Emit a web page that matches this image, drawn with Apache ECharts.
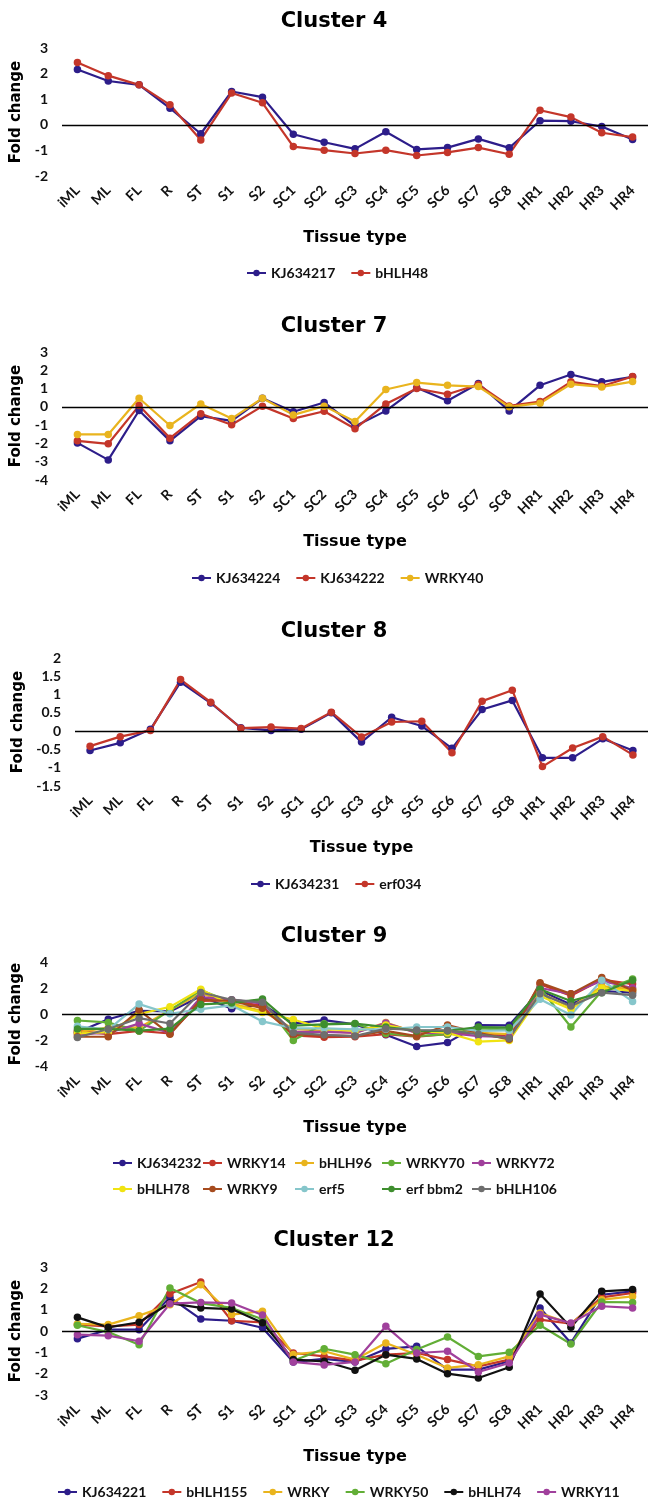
<!DOCTYPE html>
<html>
<head>
<meta charset="utf-8">
<script src="https://cdn.jsdelivr.net/npm/echarts@6/dist/echarts.min.js"></script>
<style>
body { margin: 0; background: #fff; }
.box { position: absolute; left: 0; width: 648px; }
</style>
</head>
<body>
<div id="c4" class="box" style="top:0;height:300px"></div>
<div id="c7" class="box" style="top:300px;height:310px"></div>
<div id="c8" class="box" style="top:610px;height:300px"></div>
<div id="c9" class="box" style="top:910px;height:300px"></div>
<div id="c12" class="box" style="top:1210px;height:291px"></div>
<script>
// tissues on the x axis (same for every cluster)
var tissues = ['iML','ML','FL','R','ST','S1','S2','SC1','SC2','SC3','SC4','SC5','SC6','SC7','SC8','HR1','HR2','HR3','HR4'];

// Cluster 4
var KJ634217 = [2.16,1.71,1.56,0.65,-0.35,1.30,1.08,-0.37,-0.68,-0.94,-0.27,-0.96,-0.89,-0.55,-0.90,0.16,0.14,-0.07,-0.57];
var bHLH48   = [2.43,1.92,1.56,0.78,-0.59,1.24,0.86,-0.85,-0.99,-1.12,-0.99,-1.20,-1.08,-0.89,-1.15,0.57,0.30,-0.31,-0.48];

// Cluster 7
var KJ634224 = [-1.97,-2.90,-0.20,-1.86,-0.51,-0.77,0.47,-0.27,0.24,-1.06,-0.22,1.04,0.33,1.28,-0.22,1.18,1.77,1.37,1.64];
var KJ634222 = [-1.86,-2.02,0.07,-1.71,-0.38,-0.98,0.04,-0.64,-0.24,-1.20,0.16,1.00,0.69,1.22,0.05,0.29,1.37,1.13,1.66];
var WRKY40   = [-1.51,-1.51,0.47,-1.02,0.16,-0.64,0.47,-0.44,0.04,-0.80,0.95,1.33,1.18,1.11,0.00,0.20,1.24,1.09,1.38];

// Cluster 8
var KJ634231 = [-0.53,-0.32,0.05,1.34,0.77,0.09,0.02,0.05,0.50,-0.30,0.38,0.14,-0.47,0.59,0.84,-0.73,-0.73,-0.21,-0.53];
var erf034   = [-0.41,-0.15,0.02,1.41,0.79,0.08,0.11,0.07,0.52,-0.16,0.25,0.27,-0.59,0.82,1.12,-0.97,-0.46,-0.15,-0.65];

// Cluster 9
var KJ634232 = [-1.40,-0.40,0.25,0.20,1.36,0.41,0.74,-0.74,-0.47,-0.80,-1.60,-2.50,-2.20,-0.85,-0.87,1.80,0.74,1.77,1.64];
var WRKY14   = [-1.30,-1.55,-1.30,-1.50,1.00,1.05,0.60,-1.65,-1.78,-1.75,-1.55,-1.75,-1.55,-1.45,-1.70,2.30,1.40,2.65,2.30];
var bHLH96   = [-1.40,-1.05,-1.05,0.30,1.60,0.80,0.23,-1.15,-1.30,-1.45,-0.65,-1.45,-1.30,-1.45,-1.55,1.65,0.50,2.15,1.90];
var WRKY70   = [-0.50,-0.65,-1.30,0.30,1.82,0.92,1.05,-2.03,-0.75,-0.75,-1.50,-1.70,-1.55,-1.10,-1.20,2.00,-1.00,1.77,2.70];
var WRKY72   = [-1.55,-1.45,-0.74,-1.45,1.30,1.10,0.80,-1.38,-1.38,-1.45,-0.70,-1.45,-1.45,-1.70,-1.77,2.00,1.55,2.55,2.00];
var bHLH78   = [-1.50,-1.40,0.00,0.55,1.90,0.67,0.12,-0.42,-1.13,-1.30,-0.85,-1.30,-1.45,-2.13,-2.03,1.38,0.36,2.00,1.77];
var WRKY9    = [-1.75,-1.75,0.30,-1.56,1.10,1.00,0.44,-1.56,-1.65,-1.70,-1.30,-1.70,-0.85,-1.45,-1.95,2.40,1.55,2.80,1.82];
var erf5     = [-0.95,-1.20,0.76,0.02,0.37,0.67,-0.57,-1.10,-1.10,-1.18,-1.18,-1.00,-1.00,-1.30,-1.26,1.13,-0.08,2.60,0.97];
var erfBbm2  = [-1.15,-1.15,-1.28,-1.13,0.74,0.85,1.15,-0.90,-0.80,-0.74,-1.00,-1.30,-1.30,-1.00,-1.05,1.90,1.00,1.64,2.60];
var bHLH106  = [-1.80,-1.15,-0.32,-0.73,1.65,1.10,0.90,-1.45,-1.60,-1.70,-1.13,-1.23,-1.26,-1.56,-1.87,1.56,0.62,1.64,1.45];

// Cluster 12
var KJ634221 = [-0.36,0.06,0.06,1.58,0.56,0.48,0.15,-1.45,-1.31,-1.45,-0.84,-0.72,-1.81,-1.81,-1.42,1.08,-0.56,1.70,1.86];
var bHLH155  = [0.30,0.22,0.30,1.75,2.30,0.48,0.40,-1.03,-1.19,-1.39,-1.11,-1.03,-1.34,-1.66,-1.34,0.53,0.34,1.58,1.78];
var WRKY     = [0.33,0.30,0.72,1.23,2.17,0.77,0.93,-1.10,-0.95,-1.34,-0.56,-1.11,-1.73,-1.58,-1.19,0.84,0.34,1.47,1.62];
var WRKY50   = [0.27,-0.05,-0.64,2.02,1.31,1.08,0.55,-1.39,-0.83,-1.11,-1.53,-0.87,-0.28,-1.19,-1.00,0.27,-0.61,1.36,1.34];
var bHLH74   = [0.64,0.17,0.41,1.31,1.08,1.03,0.39,-1.34,-1.42,-1.84,-1.11,-1.31,-2.00,-2.20,-1.70,1.73,0.17,1.86,1.94];
var WRKY11   = [-0.17,-0.22,-0.48,1.28,1.34,1.31,0.75,-1.45,-1.59,-1.45,0.22,-1.03,-0.95,-1.92,-1.50,0.77,0.37,1.16,1.08];

// colours
var NAVY = '#2d1d8a', RED = '#c4362a', GOLD = '#e9b41e', GREEN = '#62ae36', PURPLE = '#a0409c',
    YELLOW = '#f0e312', BROWN = '#a64b1e', CYAN = '#86c6cb', DKGREEN = '#3e8e2e', GRAY = '#6e6e6e', BLACK = '#111111';

var labelFont = 'Lato';
var headFont = 'DejaVu Sans';

function makeOption(cfg) {
    var series = cfg.series.map(function (s, i) {
        var o = {
            name: s.name, type: 'line', data: s.data,
            symbol: 'circle', symbolSize: 7.5,
            lineStyle: { width: 2.2, color: s.color },
            itemStyle: { color: s.color },
            animation: false
        };
        if (i === 0) {
            // the black line at 0
            o.markLine = {
                silent: true, symbol: 'none', animation: false,
                label: { show: false },
                lineStyle: { color: '#000', width: 1.3, type: 'solid' },
                data: [{ yAxis: 0 }]
            };
        }
        return o;
    });
    var legends = cfg.legends.map(function (lg) {
        return {
            data: lg.data, left: lg.left, top: lg.top, itemGap: lg.gap || 15,
            itemWidth: 19, itemHeight: 8,
            textStyle: { fontFamily: labelFont, fontSize: 14, fontWeight: 'bold', color: '#111' }
        };
    });
    return {
        animation: false,
        title: {
            text: cfg.title, left: 329, textAlign: 'center', top: cfg.titleTop,
            textStyle: { fontFamily: headFont, fontWeight: 'bold', fontSize: 21, color: '#000' }
        },
        legend: legends,
        grid: { left: cfg.left, right: cfg.right, top: cfg.top, height: cfg.height },
        xAxis: {
            type: 'category', data: tissues, boundaryGap: true,
            axisLine: { show: false, onZero: false },
            axisTick: { show: false },
            axisLabel: { rotate: 45, margin: 12, interval: 0, fontFamily: labelFont, fontSize: 14, fontWeight: 'bold', color: '#111' },
            name: 'Tissue type', nameLocation: 'middle', nameGap: 54,
            nameTextStyle: { fontFamily: headFont, fontWeight: 'bold', fontSize: 16, color: '#000' }
        },
        yAxis: {
            type: 'value', min: cfg.min, max: cfg.max, interval: cfg.interval,
            axisLine: { show: false }, axisTick: { show: false }, splitLine: { show: false },
            axisLabel: { margin: 14, fontFamily: labelFont, fontSize: 14, fontWeight: 'bold', color: '#111' },
            name: 'Fold change', nameLocation: 'middle', nameGap: cfg.left - 32,
            nameTextStyle: { fontFamily: headFont, fontWeight: 'bold', fontSize: 15, color: '#000' }
        },
        series: series
    };
}

var charts = [
    { id: 'c4', title: 'Cluster 4', titleTop: 6, left: 62, right: -6, top: 48, height: 128, min: -2, max: 3, interval: 1,
      series: [{ name: 'KJ634217', data: KJ634217, color: NAVY }, { name: 'bHLH48', data: bHLH48, color: RED }],
      legends: [{ data: ['KJ634217', 'bHLH48'], left: 241, top: 261 }] },
    { id: 'c7', title: 'Cluster 7', titleTop: 11, left: 62, right: -6, top: 52, height: 128, min: -4, max: 3, interval: 1,
      series: [{ name: 'KJ634224', data: KJ634224, color: NAVY }, { name: 'KJ634222', data: KJ634222, color: RED },
               { name: 'WRKY40', data: WRKY40, color: GOLD }],
      legends: [{ data: ['KJ634224', 'KJ634222', 'WRKY40'], left: 186, top: 266 }] },
    { id: 'c8', title: 'Cluster 8', titleTop: 6, left: 75, right: -6, top: 48, height: 128, min: -1.5, max: 2, interval: 0.5,
      series: [{ name: 'KJ634231', data: KJ634231, color: NAVY }, { name: 'erf034', data: erf034, color: RED }],
      legends: [{ data: ['KJ634231', 'erf034'], left: 245, top: 262 }] },
    { id: 'c9', title: 'Cluster 9', titleTop: 11, left: 62, right: -6, top: 52, height: 104, min: -4, max: 4, interval: 2,
      series: [{ name: 'KJ634232', data: KJ634232, color: NAVY }, { name: 'WRKY14', data: WRKY14, color: RED },
               { name: 'bHLH96', data: bHLH96, color: GOLD }, { name: 'WRKY70', data: WRKY70, color: GREEN },
               { name: 'WRKY72', data: WRKY72, color: PURPLE }, { name: 'bHLH78', data: bHLH78, color: YELLOW },
               { name: 'WRKY9', data: WRKY9, color: BROWN }, { name: 'erf5', data: erf5, color: CYAN },
               { name: 'erf bbm2', data: erfBbm2, color: DKGREEN }, { name: 'bHLH106', data: bHLH106, color: GRAY }],
      legends: [] },
    { id: 'c12', title: 'Cluster 12', titleTop: 15, left: 62, right: -6, top: 57, height: 128, min: -3, max: 3, interval: 1,
      series: [{ name: 'KJ634221', data: KJ634221, color: NAVY }, { name: 'bHLH155', data: bHLH155, color: RED },
               { name: 'WRKY', data: WRKY, color: GOLD }, { name: 'WRKY50', data: WRKY50, color: GREEN },
               { name: 'bHLH74', data: bHLH74, color: BLACK }, { name: 'WRKY11', data: WRKY11, color: PURPLE }],
      legends: [{ data: ['KJ634221', 'bHLH155', 'WRKY', 'WRKY50', 'bHLH74', 'WRKY11'], left: 52, top: 270, gap: 15 }] }
];

// cluster 9 legend: two rows in fixed columns
var c9cols = [107, 197, 289, 376, 466];
var c9rows = [['KJ634232', 'WRKY14', 'bHLH96', 'WRKY70', 'WRKY72'], ['bHLH78', 'WRKY9', 'erf5', 'erf bbm2', 'bHLH106']];
c9rows.forEach(function (row, r) {
    row.forEach(function (name, c) {
        charts[3].legends.push({ data: [name], left: c9cols[c], top: [241, 267][r] });
    });
});

charts.forEach(function (cfg) {
    var chart = echarts.init(document.getElementById(cfg.id), null, { renderer: 'canvas' });
    chart.setOption(makeOption(cfg));
});
</script>
</body>
</html>
